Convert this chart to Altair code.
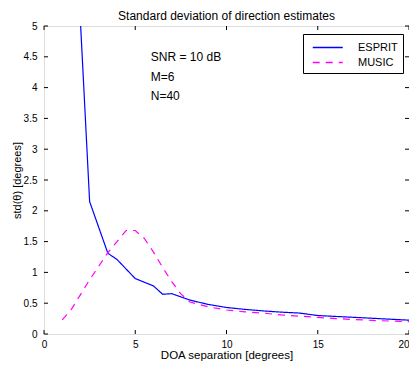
import altair as alt
import pandas as pd

esprit_x = [2, 2.5, 3.5, 4, 5, 6, 6.5, 7, 8, 9, 10, 11, 12, 13, 14, 15, 16, 17, 18, 19, 20]
esprit_y = [5.05, 2.15, 1.31, 1.21, 0.90, 0.78, 0.645, 0.655, 0.55, 0.48, 0.43, 0.40, 0.375, 0.355, 0.34, 0.30, 0.285, 0.27, 0.255, 0.24, 0.225]

music_x = [1, 1.5, 2, 2.5, 3, 3.5, 4, 4.5, 5, 5.5, 6, 6.5, 7, 7.5, 8, 9, 10, 11, 12, 13, 14, 15, 16, 17, 18, 19, 20]
music_y = [0.23, 0.40, 0.64, 0.88, 1.10, 1.32, 1.50, 1.68, 1.68, 1.55, 1.33, 1.08, 0.85, 0.65, 0.52, 0.44, 0.39, 0.36, 0.34, 0.31, 0.29, 0.27, 0.25, 0.235, 0.22, 0.21, 0.20]

x_ticks = [0, 5, 10, 15, 20]
y_ticks = [0, 0.5, 1, 1.5, 2, 2.5, 3, 3.5, 4, 4.5, 5]

note_text = ["SNR = 10 dB", "M=6", "N=40"]
note_x = [5.85, 5.85, 5.85]
note_y = [4.5, 4.18, 3.87]

W, H = 365, 308
FONT = "Liberation Sans"

df = pd.concat([
    pd.DataFrame({"x": esprit_x, "y": esprit_y, "method": "ESPRIT"}),
    pd.DataFrame({"x": music_x, "y": music_y, "method": "MUSIC"}),
])

xs = alt.Scale(domain=[0, 20], nice=False)
ys = alt.Scale(domain=[0, 5], nice=False)

XT = "DOA separation [degrees]"
YT = "std(θ) [degrees]"
x_axis = alt.Axis(values=x_ticks, ticks=False, domain=False, grid=False, labelPadding=5,
                  titlePadding=0, titleFontSize=11.5, labelOverlap=False, format="~g",
                  titleFontWeight="normal",
                  labelAlign=alt.ExprRef(expr="datum.value == 20 ? 'right' : 'center'"))
y_axis = alt.Axis(values=y_ticks, ticks=False, domain=False, grid=False, labelPadding=7,
                  titlePadding=1, labelOverlap=False, format="~g", titleFontWeight="normal")


def make_legend():
    return alt.Legend(title=None, orient="none", legendX=259, legendY=8, strokeColor="black",
                      fillColor="white", padding=5, symbolType="M-0.5,0H3.5",
                      symbolSize=225, symbolStrokeWidth=1.5, labelOffset=33,
                      rowPadding=1, labelFont=FONT, labelFontSize=11, labelColor="black",
                      labelLimit=200, cornerRadius=0)


lines = alt.Chart(df).mark_line(clip=True, strokeWidth=1.2).encode(
    x=alt.X("x:Q", scale=xs, axis=x_axis, title=XT),
    y=alt.Y("y:Q", scale=ys, axis=y_axis, title=YT),
    color=alt.Color("method:N", scale=alt.Scale(domain=["ESPRIT", "MUSIC"], range=["#0000ff", "#ff00ff"]),
                    legend=make_legend()),
    strokeDash=alt.StrokeDash("method:N", scale=alt.Scale(domain=["ESPRIT", "MUSIC"], range=[[1, 0], [7, 6]]),
                              legend=make_legend()),
)

notes = alt.Chart(pd.DataFrame({"t": note_text, "x": note_x, "y": note_y})).mark_text(
    align="left", baseline="middle", font=FONT, fontSize=12, color="black"
).encode(x=alt.X("x:Q", scale=xs, axis=x_axis, title=XT),
         y=alt.Y("y:Q", scale=ys, axis=y_axis, title=YT), text="t:N")

xt = pd.DataFrame({"v": x_ticks})
yt = pd.DataFrame({"v": y_ticks})
tick_style = dict(color="black", strokeWidth=1)
xb = alt.Chart(xt).mark_rule(**tick_style).encode(
    x=alt.X("v:Q", scale=xs, axis=x_axis, title=XT), y=alt.value(H), y2=alt.value(H - 4))
xtop = alt.Chart(xt).mark_rule(**tick_style).encode(
    x=alt.X("v:Q", scale=xs, axis=x_axis, title=XT), y=alt.value(0), y2=alt.value(4))
yl = alt.Chart(yt).mark_rule(**tick_style).encode(
    y=alt.Y("v:Q", scale=ys, axis=y_axis, title=YT), x=alt.value(0), x2=alt.value(4))
yr = alt.Chart(yt).mark_rule(**tick_style).encode(
    y=alt.Y("v:Q", scale=ys, axis=y_axis, title=YT), x=alt.value(W), x2=alt.value(W - 4))

chart = alt.layer(lines, notes, xb, xtop, yl, yr).properties(
    width=W, height=H,
    title=alt.TitleParams("Standard deviation of direction estimates", font=FONT, fontSize=12,
                          fontWeight="normal", offset=-2, color="black"),
    autosize=alt.AutoSizeParams(type="none"),
    padding={"left": 36, "top": 18, "right": 0, "bottom": 27},
).configure_view(stroke="black", strokeWidth=1).configure_axis(
    labelFont=FONT, titleFont=FONT, labelFontSize=11, titleFontSize=12, labelColor="black",
    titleColor="black", titleFontWeight="normal"
).configure(background="white")

chart.save("out.html", embed_options={"renderer": "svg", "actions": False})
